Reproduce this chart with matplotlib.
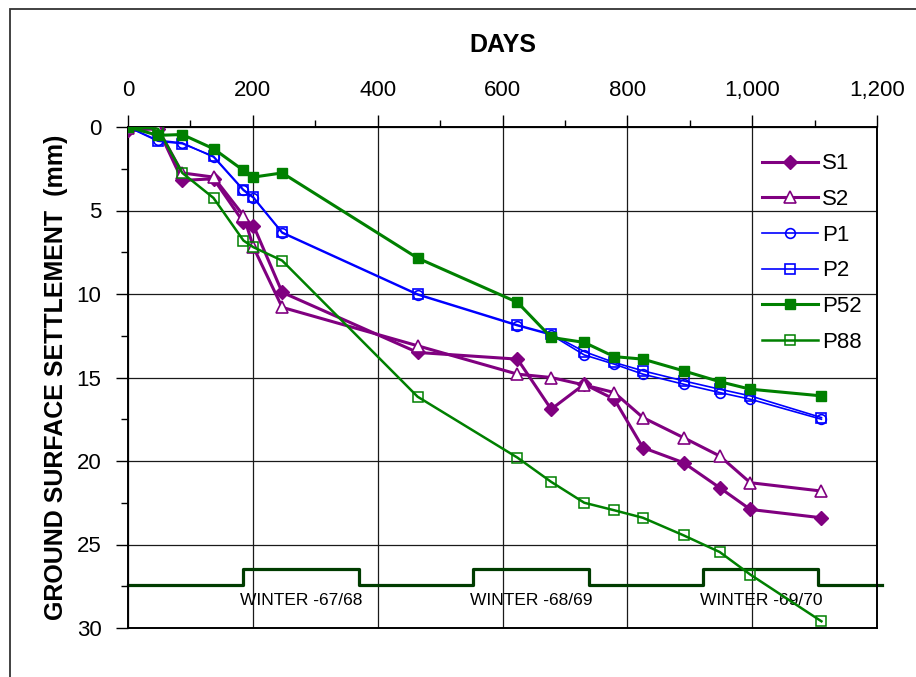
import matplotlib.pyplot as plt
from matplotlib.ticker import MultipleLocator, FuncFormatter
from matplotlib.patches import Rectangle

plt.rcParams['font.family'] = ['Liberation Sans', 'DejaVu Sans']

# readings (days since start, settlement in mm)
days = [0, 48, 87, 137, 185, 201, 247, 464, 624, 678, 731, 779, 825, 890, 948, 997, 1111]
S1 = [0.2, 0.1, 3.2, 3.1, 5.7, 5.9, 9.9, 13.5, 13.9, 16.9, 15.4, 16.3, 19.2, 20.1, 21.6, 22.9, 23.4]
S2 = [0.05, 0.1, 2.75, 3.0, 5.3, 7.2, 10.8, 13.1, 14.8, 15.0, 15.45, 15.9, 17.4, 18.6, 19.7, 21.3, 21.8]
P1 = [0, 0.8, 0.95, 1.8, 3.8, 4.25, 6.35, 10.05, 11.9, 12.45, 13.65, 14.2, 14.8, 15.4, 15.9, 16.3, 17.5]
P2 = [0, 0.85, 1.0, 1.75, 3.75, 4.2, 6.3, 10.0, 11.85, 12.4, 13.45, 14.1, 14.6, 15.2, 15.7, 16.1, 17.4]
P52 = [0, 0.5, 0.45, 1.3, 2.6, 3.0, 2.75, 7.85, 10.5, 12.6, 12.9, 13.75, 13.9, 14.6, 15.25, 15.7, 16.1]
P88 = [0, 0.1, 2.75, 4.25, 6.8, 7.2, 8.0, 16.15, 19.8, 21.25, 22.5, 22.95, 23.4, 24.45, 25.45, 26.8, 29.6]

winter_start = [184, 553, 922]
winter_end = [370, 738, 1106]
winter_labels = ['WINTER -67/68', 'WINTER -68/69', 'WINTER -69/70']
winter_low = 27.4
winter_high = 26.45

fig = plt.figure(figsize=(9.16, 6.77), dpi=100)
ax = fig.add_axes([128/916, 1-628/677, 749/916, 501/677])

# outer frame of the original sheet
fig.patches.append(Rectangle((10/916, -0.05), 1.1, 1-9/677+0.05, transform=fig.transFigure,
                             fill=False, edgecolor='#333333', lw=1.3))

# winter periods as a step line
wx = [0]
wy = [winter_low]
for s, e in zip(winter_start, winter_end):
    wx += [s, s, e, e]
    wy += [winter_low, winter_high, winter_high, winter_low]
wx.append(1208)
wy.append(winter_low)
ax.plot(wx, wy, color='#003c00', lw=2.3, clip_on=False, zorder=2)
for s, e, lab in zip(winter_start, winter_end, winter_labels):
    ax.text((s+e)/2, 28.35, lab, ha='center', va='center', fontsize=12.5, zorder=3)

purple = '#800080'
blue = '#0000ff'
green = '#008000'
ax.plot(days, S1, color=purple, lw=2.2, marker='D', ms=7, mfc=purple, mec=purple, label='S1', zorder=4)
ax.plot(days, S2, color=purple, lw=2.2, marker='^', ms=9, mfc='white', mec=purple, mew=1.2, label='S2', zorder=4)
ax.plot(days, P1, color=blue, lw=1.2, marker='o', ms=7, mfc='none', mec=blue, mew=1.2, label='P1', zorder=4)
ax.plot(days, P2, color=blue, lw=1.2, marker='s', ms=7, mfc='none', mec=blue, mew=1.2, label='P2', zorder=4)
ax.plot(days, P52, color=green, lw=2.2, marker='s', ms=7.5, mfc=green, mec=green, label='P52', zorder=5)
ax.plot(days, P88, color=green, lw=1.8, marker='s', ms=7, mfc='none', mec=green, mew=1.1, label='P88', zorder=5)

ax.set_xlim(0, 1200)
ax.set_ylim(30, 0)
ax.xaxis.tick_top()
ax.xaxis.set_label_position('top')
ax.xaxis.set_major_locator(MultipleLocator(200))
ax.xaxis.set_minor_locator(MultipleLocator(100))
ax.yaxis.set_major_locator(MultipleLocator(5))
ax.yaxis.set_minor_locator(MultipleLocator(2.5))
ax.xaxis.set_major_formatter(FuncFormatter(lambda v, p: f'{int(v):,}'))
ax.tick_params(which='major', direction='out', length=9, width=1, labelsize=16, color='black')
ax.tick_params(which='minor', direction='out', length=5, width=1, color='black')
ax.tick_params(axis='x', which='major', pad=10)
ax.tick_params(axis='y', which='major', pad=10)
ax.grid(True, which='major', color='#1a1a1a', lw=0.9)
for sp in ax.spines.values():
    sp.set_linewidth(1.4)
    sp.set_color('black')

ax.set_xlabel('DAYS', fontsize=18, fontweight='bold', labelpad=20)
ax.set_ylabel('GROUND SURFACE SETTLEMENT  (mm)', fontsize=18, fontweight='bold', labelpad=6)

ax.legend(loc='upper left', bbox_to_anchor=(0.835, 0.965), frameon=False, fontsize=16,
          handlelength=2.5, handletextpad=0.2, labelspacing=0.66, borderaxespad=0)

fig.savefig('out.png', dpi=100)
